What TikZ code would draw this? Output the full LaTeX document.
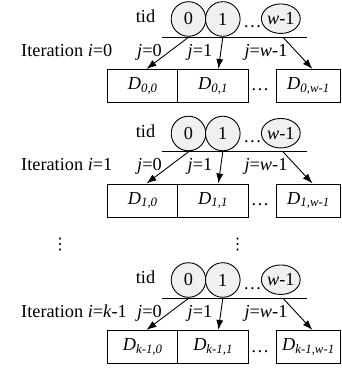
\documentclass[tikz,border=0pt]{standalone}
\usepackage{fontspec}
\setmainfont{Liberation Serif}
\newfontfamily\dvfont{DejaVu Sans}
\usetikzlibrary{arrows.meta,calc,shapes.geometric}
\newcommand{\IterBlock}[6]{%
  \node[lbl] (tid#2) at (145.5,#1+22.7) {tid};
  \node[tidc] (c0#2) at (188.5,#1+19) {0};
  \node[tidc] (c1#2) at (222.8,#1+19) {1};
  \node[lbl] (dc#2) at (252.5,#1+28) {\ldots};
  \node[tide] (cw#2) at (280.8,#1+18.7) {\textit{w}-1};
  \coordinate (ll#2) at (162,#1+37.3);
  \coordinate (lr#2) at (307,#1+37.3);
  \draw[thinline] (ll#2) -- (lr#2);
  \node[lbl, anchor=base west] (it#2) at (21,#1+56.5) {Iteration \textit{i}=#3};
  \node[lbl] (j0#2) at (149.5,#1+56.5) {\textit{j}=0};
  \node[lbl] (j1#2) at (200,#1+56.5) {\textit{j}=1};
  \node[lbl] (jw#2) at (266,#1+56.5) {\textit{j}=\textit{w}-1};
  \node[dbox, minimum width=70pt] (b0#2) at (107.3,#1+69) {\textit{D}\textsubscript{\textit{#4}}};
  \node[dbox, minimum width=70.7pt] (b1#2) at (177.3,#1+69) {\textit{D}\textsubscript{\textit{#5}}};
  \node[lbl] (db#2) at (260,#1+91) {\ldots};
  \node[dbox, minimum width=64pt] (b2#2) at (276,#1+69) {\textit{D}\textsubscript{\textit{#6}}};
  \draw[arr] (c0#2.south |- ll#2) -- ($(b0#2.north)+(3.7,0)$);
  \draw[arr] (c1#2.south |- ll#2) -- ($(b1#2.north)+(5.3,0)$);
  \draw[arr] ($(cw#2.south |- ll#2)+(2.2,0)$) -- ($(b2#2.north)+(4,0)$);
}
\begin{document}
\begin{tikzpicture}[x=1pt,y=-1pt,
  font=\fontsize{18.3}{20}\selectfont,
  thinline/.style={line width=0.9pt},
  tidc/.style={circle, draw, line width=0.9pt, fill=gray!12, minimum size=34.6pt, inner sep=0pt},
  tide/.style={ellipse, draw, line width=0.9pt, fill=gray!12, minimum width=37pt, minimum height=29.5pt, inner sep=0pt},
  dbox/.style={draw, line width=0.9pt, minimum height=33.3pt, inner sep=0pt, anchor=north west},
  lbl/.style={anchor=base, inner sep=0pt},
  arr/.style={line width=0.9pt, -{Latex[length=10pt,width=7pt]}},
  vdot/.style={inner sep=0pt, font=\dvfont\fontsize{16}{16}\selectfont}]
\useasboundingbox (0,0) rectangle (341,371);
\IterBlock{0}{a}{0}{0,0}{0,1}{0,w-1}
\IterBlock{114.5}{b}{1}{1,0}{1,1}{1,w-1}
\IterBlock{261}{c}{\textit{k}-1}{k-1,0}{k-1,1}{k-1,w-1}
\node[vdot] (vd1) at (60,245) {⋮};
\node[vdot] (vd2) at (237.7,245) {⋮};
\end{tikzpicture}
\end{document}
